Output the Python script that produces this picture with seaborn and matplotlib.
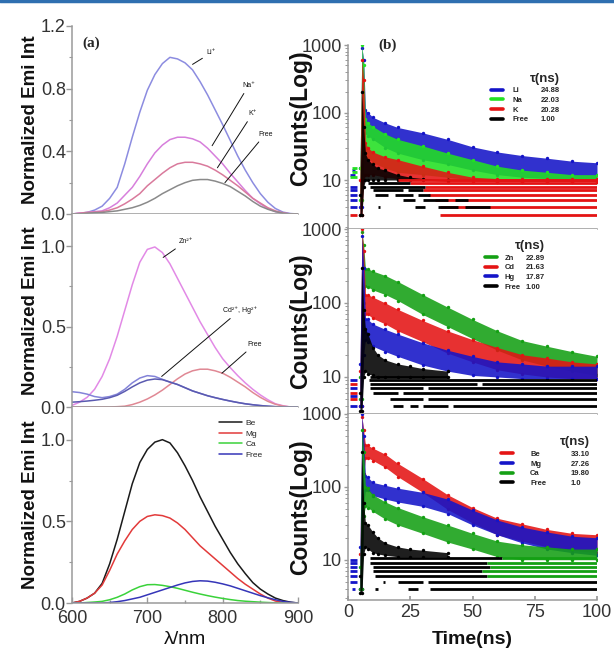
import matplotlib
matplotlib.use("Agg")
import matplotlib.pyplot as plt
from matplotlib.lines import Line2D
from matplotlib.ticker import MultipleLocator, FixedLocator, NullFormatter, FormatStrFormatter
import seaborn as sns

# ---- emission spectra (panel a, middle, bottom) ----
lam = [600, 610, 620, 630, 640, 650, 660, 670, 680, 690, 700, 710, 720, 730, 740, 750,
       760, 770, 780, 790, 800, 810, 820, 830, 840, 850, 860, 870, 880, 890, 900]

li_em = [0.0, 0.005, 0.01, 0.025, 0.05, 0.10, 0.17, 0.32, 0.49, 0.65, 0.79, 0.89, 0.96, 1.0, 0.99, 0.965,
         0.92, 0.845, 0.76, 0.665, 0.57, 0.47, 0.37, 0.28, 0.20, 0.13, 0.075, 0.035, 0.012, 0.003, 0.0]
na_em = [0.0, 0.005, 0.01, 0.015, 0.02, 0.04, 0.07, 0.12, 0.17, 0.24, 0.32, 0.39, 0.44, 0.475, 0.49, 0.49,
         0.48, 0.46, 0.42, 0.37, 0.32, 0.26, 0.205, 0.15, 0.10, 0.065, 0.035, 0.015, 0.005, 0.0, 0.0]
k_em = [0.0, 0.005, 0.01, 0.012, 0.015, 0.025, 0.04, 0.065, 0.095, 0.13, 0.18, 0.22, 0.26, 0.295, 0.32, 0.33,
        0.33, 0.32, 0.305, 0.28, 0.25, 0.215, 0.18, 0.14, 0.10, 0.07, 0.04, 0.02, 0.008, 0.0, 0.0]
free_a_em = [0.0, 0.0, 0.005, 0.008, 0.01, 0.015, 0.02, 0.03, 0.04, 0.055, 0.075, 0.10, 0.13, 0.155, 0.18, 0.20,
             0.215, 0.22, 0.22, 0.21, 0.195, 0.175, 0.145, 0.115, 0.08, 0.05, 0.03, 0.015, 0.005, 0.0, 0.0]

zn_em = [0.01, 0.03, 0.06, 0.11, 0.19, 0.30, 0.44, 0.60, 0.76, 0.90, 0.98, 0.995, 0.96, 0.89, 0.80, 0.71,
         0.62, 0.53, 0.45, 0.37, 0.30, 0.245, 0.195, 0.15, 0.11, 0.075, 0.045, 0.02, 0.008, 0.0, 0.0]
cd_em = [0.095, 0.09, 0.08, 0.065, 0.058, 0.065, 0.08, 0.11, 0.15, 0.18, 0.195, 0.19, 0.172, 0.155, 0.14, 0.12,
         0.10, 0.085, 0.07, 0.058, 0.047, 0.037, 0.028, 0.02, 0.014, 0.009, 0.005, 0.002, 0.0, 0.0, 0.0]
hg_em = [0.03, 0.033, 0.037, 0.042, 0.048, 0.058, 0.073, 0.097, 0.125, 0.15, 0.167, 0.174, 0.17, 0.155, 0.14, 0.12,
         0.10, 0.085, 0.07, 0.058, 0.047, 0.037, 0.028, 0.02, 0.014, 0.009, 0.005, 0.002, 0.0, 0.0, 0.0]
free_m_em = [0.0, 0.0, 0.0, 0.0, 0.0, 0.0, 0.002, 0.005, 0.015, 0.03, 0.05, 0.075, 0.105, 0.14, 0.175, 0.205,
             0.225, 0.235, 0.235, 0.225, 0.21, 0.185, 0.155, 0.125, 0.09, 0.06, 0.035, 0.017, 0.006, 0.0, 0.0]

be_em = [0.0, 0.01, 0.03, 0.06, 0.12, 0.24, 0.39, 0.56, 0.73, 0.86, 0.94, 0.985, 1.0, 0.98, 0.92, 0.84,
         0.75, 0.65, 0.56, 0.47, 0.39, 0.31, 0.24, 0.18, 0.125, 0.085, 0.055, 0.03, 0.015, 0.005, 0.0]
mg_em = [0.0, 0.01, 0.03, 0.06, 0.11, 0.20, 0.30, 0.38, 0.45, 0.50, 0.53, 0.54, 0.535, 0.52, 0.49, 0.45,
         0.40, 0.35, 0.31, 0.27, 0.23, 0.19, 0.15, 0.115, 0.085, 0.055, 0.03, 0.012, 0.004, 0.0, 0.0]
ca_em = [0.0, 0.0, 0.003, 0.006, 0.01, 0.02, 0.035, 0.055, 0.08, 0.10, 0.112, 0.113, 0.108, 0.10, 0.09, 0.078,
         0.066, 0.055, 0.045, 0.036, 0.028, 0.021, 0.015, 0.011, 0.008, 0.005, 0.003, 0.001, 0.0, 0.0, 0.0]
free_d_em = [0.0, 0.0, 0.0, 0.0, 0.0, 0.003, 0.008, 0.015, 0.025, 0.035, 0.05, 0.065, 0.08, 0.095, 0.11, 0.123,
             0.132, 0.136, 0.134, 0.127, 0.117, 0.105, 0.09, 0.075, 0.06, 0.045, 0.032, 0.02, 0.01, 0.004, 0.0]

# ---- decay curves: envelope of the scattered counts (panel b, middle, bottom) ----
t_dec = [4.8, 5.6, 6.3, 7.0, 8, 10, 15, 20, 30, 40, 50, 60, 70, 80, 90, 100]
t_free = [4.8, 5.6, 6.3, 7.0, 8, 10, 12, 15, 20, 25, 30, 40]

li_hi = [15, 900, 600, 110, 100, 85, 70, 60, 50, 40, 31, 26, 23, 21, 19, 18]
li_lo = [4, 4, 30, 50, 45, 40, 30, 25, 20, 17, 14, 12, 11, 10.5, 10, 10]
na_hi = [15, 1000, 500, 80, 70, 62, 48, 40, 32, 25, 20, 16, 14, 13, 12, 12]
na_lo = [5, 5, 25, 25, 22, 18, 15, 13, 12, 11, 10, 9.5, 9.5, 9.5, 9.5, 9.5]
k_hi = [10, 600, 300, 35, 30, 26, 22, 20, 16, 13, 11, 10.5, 10.5, 10.5, 10.5, 10.5]
k_lo = [3, 3, 10, 12, 12, 12, 11, 10.5, 10, 9.5, 9.5, 9.5, 9.5, 9.5, 9.5, 9.5]
free_b_hi = [6, 200, 60, 25, 20, 17, 15, 14, 12, 11, 10.5, 10]
free_b_lo = [3, 3, 8, 10, 10, 10, 10, 10, 10, 10, 10, 10]

zn_hi = [10, 900, 600, 290, 290, 270, 235, 195, 130, 88, 60, 42, 31, 26, 22, 19]
zn_lo = [5, 5, 100, 170, 165, 150, 130, 108, 70, 48, 33, 23, 17, 14, 12, 10.5]
cd_hi = [12, 1000, 500, 130, 130, 120, 100, 82, 58, 42, 32, 25, 20, 18, 16, 15]
cd_lo = [4, 4, 40, 70, 70, 62, 52, 42, 30, 21, 16, 12.5, 11, 10, 9.5, 9.5]
hg_hi = [15, 800, 300, 60, 60, 52, 44, 38, 29, 23, 19, 16, 15, 14, 14, 14]
hg_lo = [4, 4, 20, 32, 30, 26, 22, 19, 14.5, 12, 10.5, 10, 9.5, 9.5, 9.5, 9.5]
free_c_hi = [6, 300, 80, 45, 38, 25, 20, 17, 15, 14, 13, 12]
free_c_lo = [3.5, 3.5, 10, 12, 11, 10.5, 10, 10, 10, 10, 10, 10]

be_hi = [12, 900, 600, 380, 370, 340, 280, 210, 130, 78, 52, 37, 31, 26, 23, 22]
be_lo = [4, 4, 150, 250, 250, 230, 185, 138, 84, 49, 32, 22, 18, 15, 13.5, 12.5]
mg_hi = [15, 1000, 500, 140, 135, 115, 105, 96, 84, 68, 48, 35, 28, 24, 21, 20]
mg_lo = [4, 4, 60, 90, 90, 76, 68, 62, 54, 43, 30, 22, 17, 14, 12.5, 11.5]
ca_hi = [8, 600, 300, 100, 95, 78, 62, 52, 39, 30, 23, 18, 16, 15, 14, 14]
ca_lo = [4, 4, 40, 55, 52, 46, 36, 30, 23, 17.5, 14, 11, 10, 10, 10, 10]
free_d_hi = [6, 300, 60, 32, 30, 24, 20, 17, 15, 14, 13.5, 12.5]
free_d_lo = [3.5, 3.5, 12, 15, 14, 12.5, 12, 11.5, 11, 11, 11, 11]

# quantised low-count rows: (count, t_start, t_end)
rows_b_red = [(10, 20, 100), (9, 25, 100), (8, 31, 100), (7, 30, 100), (6, 32, 100),
              (5, 35, 100), (4, 37, 100), (3, 37, 100), (3, 0.8, 3.5)]
rows_b_black = [(9, 8, 25), (8, 9, 31), (7, 10, 22), (7, 24, 30), (6, 11, 16), (6, 19, 26), (6, 28, 33),
                (5, 22, 27), (5, 30, 40), (5, 43, 48), (4, 12, 13), (4, 27, 31), (4, 36, 44), (4, 47, 57)]
rows_b_blue = [(8, 1, 3.5), (7, 1, 3.5), (6, 1, 3.5), (5, 1, 3.5), (4, 1, 3.5), (12, 1, 3), (14, 1.5, 3)]
rows_b_green = [(15, 1.5, 3.5), (13, 1.5, 3.5), (11, 1, 3.5)]

rows_c_black = [(10, 9, 40), (9, 8.5, 100), (8, 9, 52), (8, 54, 100), (7, 9, 30), (7, 32, 100),
                (6, 10, 20), (6, 22, 100), (5, 17, 30), (5, 32, 100), (4, 18, 22), (4, 25, 28),
                (4, 30, 40), (4, 42, 100)]
rows_c_blue = [(9, 1, 3.5), (7, 1, 3.5), (5.5, 1, 3.5), (4, 1, 3.5)]
rows_c_red = [(8, 1, 3.5), (6, 1, 3.5), (5, 1, 3.5)]

rows_d_black = [(10.5, 9, 62), (9, 9, 56), (8, 10, 57), (7, 10, 54), (6, 11, 56), (5, 14, 15),
                (5, 20, 30), (5, 32, 100), (4, 11, 12), (4, 24, 28), (4, 33, 100)]
rows_d_green = [(10.5, 62, 100), (9, 56, 100), (8, 57, 100), (7, 54, 100), (6, 56, 100)]
rows_d_blue = [(10, 1, 3.5), (9, 1, 3.5), (8, 1, 3.5), (7, 1, 3.5), (6, 1, 3.5), (5, 1, 3.5), (4, 1.5, 3)]

sns.set_theme(style="white")
plt.rcParams["font.family"] = ["Liberation Sans", "DejaVu Sans"]
plt.rcParams["axes.edgecolor"] = "#9a9a9a"
plt.rcParams["axes.linewidth"] = 1.1

fig = plt.figure(figsize=(6.14, 6.5), dpi=100)
fig.add_artist(Line2D([0, 1], [0.998, 0.998], color="#2f6fb0", lw=2.5))

W, H = 614, 650
def box(x0, x1, y0, y1):
    return [x0 / W, 1 - y1 / H, (x1 - x0) / W, (y1 - y0) / H]

ax_a1 = fig.add_axes(box(72, 298, 26, 214))
ax_a2 = fig.add_axes(box(72, 298, 214, 407))
ax_a3 = fig.add_axes(box(72, 298, 407, 603))
ax_b1 = fig.add_axes(box(348, 597, 45, 229))
ax_b2 = fig.add_axes(box(348, 597, 229, 414))
ax_b3 = fig.add_axes(box(348, 597, 414, 600))

TICK = "#333333"

# ---- left column: spectra ----
spec = [
    (ax_a1, [(li_em, "#8c8ce0"), (na_em, "#d77fdc"), (k_em, "#d97a9c"), (free_a_em, "#8a8a8a")]),
    (ax_a2, [(zn_em, "#e28ae6"), (free_m_em, "#e08894"), (cd_em, "#8383d8"), (hg_em, "#5a5ab0")]),
    (ax_a3, [(be_em, "#1a1a1a"), (mg_em, "#e23a3a"), (ca_em, "#3ad23a"), (free_d_em, "#3535b8")]),
]
for ax, series in spec:
    for vals, col in series:
        sns.lineplot(x=lam, y=vals, color=col, lw=1.1, ax=ax, sort=False, estimator=None)
    ax.set_xlim(600, 900)
    ax.set_ylim(0, 1.2)
    for s in ["top", "right"]:
        ax.spines[s].set_visible(False)
    ax.tick_params(axis="y", direction="out", length=4, width=1, color="#9a9a9a",
                   labelsize=13, labelcolor=TICK, pad=0.5, left=True)
    ax.tick_params(axis="y", which="minor", direction="out", length=2.5, width=0.8, color="#9a9a9a", left=True)
    ax.yaxis.set_major_formatter(FormatStrFormatter("%.1f"))
    ax.set_ylabel("Normalized Emi Int", fontsize=13.5, fontweight="bold", color="#111111")
    ax.yaxis.set_label_coords(-0.145, 0.5)

ax_a1.yaxis.set_major_locator(FixedLocator([0.0, 0.4, 0.8, 1.2]))
ax_a1.yaxis.set_minor_locator(FixedLocator([0.2, 0.6, 1.0]))
for ax in (ax_a2, ax_a3):
    ax.yaxis.set_major_locator(FixedLocator([0.0, 0.5, 1.0]))
    ax.yaxis.set_minor_locator(FixedLocator([0.25, 0.75]))
for ax in (ax_a1, ax_a2):
    ax.tick_params(axis="x", bottom=False, labelbottom=False)
    ax.set_xlabel("")
ax_a3.xaxis.set_major_locator(MultipleLocator(100))
ax_a3.xaxis.set_minor_locator(MultipleLocator(50))
ax_a3.tick_params(axis="x", direction="in", length=4, width=1, color="#9a9a9a",
                  labelsize=13, labelcolor=TICK, pad=5, bottom=True)
ax_a3.tick_params(axis="x", which="minor", direction="in", length=2.5, color="#9a9a9a", bottom=True)
ax_a3.set_xlabel("λ/nm", fontsize=14, color="#111111")
ax_a3.xaxis.set_label_coords(0.5, -0.145)

ax_a1.text(0.045, 0.91, "(a)", transform=ax_a1.transAxes, fontsize=11, fontweight="bold",
           family="Liberation Serif", va="center")

arrow = dict(arrowstyle="-", color="#111111", lw=0.7, shrinkA=1, shrinkB=0)
for ax, txt, xy, xyt in [
    (ax_a1, "Li⁺", (760, 0.955), (779, 1.03)),
    (ax_a1, "Na⁺", (786, 0.436), (826, 0.82)),
    (ax_a1, "K⁺", (793, 0.295), (834, 0.64)),
    (ax_a1, "Free", (803, 0.2), (847, 0.51)),
    (ax_a2, "Zn²⁺", (721, 0.93), (742, 1.03)),
    (ax_a2, "Cd²⁺, Hg²⁺", (719, 0.19), (800, 0.6)),
    (ax_a2, "Free", (799, 0.21), (833, 0.39)),
]:
    ax.annotate(txt, xy=xy, xytext=xyt, fontsize=5, ha="left", va="center",
                arrowprops=arrow, color="#111111")

leg = ax_a3.legend(handles=[Line2D([], [], color=c, lw=1.1) for c in ["#1a1a1a", "#e23a3a", "#3ad23a", "#3535b8"]],
                   labels=["Be", "Mg", "Ca", "Free"], loc="upper left", bbox_to_anchor=(0.63, 0.96),
                   frameon=False, fontsize=6, handlelength=2.8, handletextpad=0.4, labelspacing=0.35,
                   borderpad=0)

# ---- right column: decays ----
BLUE, GREEN, RED, BLACK = "#1414c8", "#22e022", "#e41414", "#000000"
DGREEN = "#14a014"

def draw_band(ax, t, lo, hi, col):
    ax.fill_between(t, lo, hi, color=col, lw=0, alpha=0.88)
    sns.scatterplot(x=t + t, y=hi + lo, color=col, s=6, marker="o", linewidth=0, ax=ax)

def draw_rows(ax, rows, col):
    ax.hlines([r[0] for r in rows], [r[1] for r in rows], [r[2] for r in rows], colors=col, lw=2.0)

draw_band(ax_b1, t_dec, li_lo, li_hi, BLUE)
draw_band(ax_b1, t_dec, na_lo, na_hi, GREEN)
draw_band(ax_b1, t_dec, k_lo, k_hi, RED)
draw_rows(ax_b1, rows_b_red, RED)
draw_rows(ax_b1, rows_b_blue, BLUE)
draw_rows(ax_b1, rows_b_green, GREEN)
draw_band(ax_b1, t_free, free_b_lo, free_b_hi, BLACK)
draw_rows(ax_b1, rows_b_black, BLACK)

draw_band(ax_b2, t_dec, zn_lo, zn_hi, DGREEN)
draw_band(ax_b2, t_dec, cd_lo, cd_hi, RED)
draw_band(ax_b2, t_dec, hg_lo, hg_hi, BLUE)
draw_rows(ax_b2, rows_c_black, BLACK)
draw_rows(ax_b2, rows_c_blue, BLUE)
draw_rows(ax_b2, rows_c_red, RED)
draw_band(ax_b2, t_free, free_c_lo, free_c_hi, BLACK)

draw_band(ax_b3, t_dec, be_lo, be_hi, RED)
draw_band(ax_b3, t_dec, mg_lo, mg_hi, BLUE)
draw_band(ax_b3, t_dec, ca_lo, ca_hi, DGREEN)
draw_rows(ax_b3, rows_d_black, BLACK)
draw_rows(ax_b3, rows_d_green, DGREEN)
draw_rows(ax_b3, rows_d_blue, BLUE)
draw_band(ax_b3, t_free, free_d_lo, free_d_hi, BLACK)

for ax, ylo in [(ax_b1, 1.88), (ax_b2, 3.16), (ax_b3, 2.8)]:
    ax.set_yscale("log")
    ax.set_ylim(ylo, 1000)
    ax.set_xlim(0, 100)
    for s in ["top", "right"]:
        ax.spines[s].set_visible(False)
    ax.yaxis.set_major_locator(FixedLocator([10, 100, 1000]))
    ax.set_yticklabels(["10", "100", "1000"])
    ax.yaxis.set_minor_locator(FixedLocator([2, 3, 4, 5, 6, 7, 8, 9, 20, 30, 40, 50, 60, 70, 80, 90,
                                             200, 300, 400, 500, 600, 700, 800, 900]))
    ax.yaxis.set_minor_formatter(NullFormatter())
    ax.tick_params(axis="y", direction="out", length=3, width=1, color="#9a9a9a",
                   labelsize=13, labelcolor=TICK, pad=1.5, left=True)
    ax.tick_params(axis="y", which="minor", direction="out", length=2, width=0.7, color="#9a9a9a", left=True)
    ax.set_ylabel("Counts(Log)", fontsize=16.5, fontweight="bold", color="#111111")
    ax.yaxis.set_label_coords(-0.145, 0.5)
ax_b1.yaxis.set_label_coords(-0.145, 0.6)

for ax in (ax_b1, ax_b2):
    ax.tick_params(axis="x", bottom=False, labelbottom=False)
    ax.set_xlabel("")
ax_b3.xaxis.set_major_locator(FixedLocator([0, 25, 50, 75, 100]))
ax_b3.tick_params(axis="x", direction="in", length=3, color="#9a9a9a",
                  labelsize=13, labelcolor=TICK, pad=3, bottom=True)
ax_b3.set_xlabel("Time(ns)", fontsize=14, fontweight="bold", color="#111111")
ax_b3.xaxis.set_label_coords(0.5, -0.165)

ax_b1.text(0.12, 1.0, "(b)", transform=ax_b1.transAxes, fontsize=11, fontweight="bold",
           family="Liberation Serif", va="center")

def tau_legend(ax, names, taus, colors, anchor, tpad, cspace):
    handles = [Line2D([], [], color=c, lw=2.6) for c in colors] + [Line2D([], [], lw=0) for _ in taus]
    ax.legend(handles, names + taus, ncol=2, loc="upper left", bbox_to_anchor=anchor, frameon=False,
              title="τ(ns)", prop={"size": 5.5, "weight": "bold"},
              title_fontproperties={"size": 9.5, "weight": "bold"},
              handlelength=1.6, handletextpad=tpad, columnspacing=cspace, labelspacing=0.3,
              borderpad=0, alignment="right")

tau_legend(ax_b1, ["Li", "Na", "K", "Free"], ["24.88", "22.03", "20.28", "1.00"],
           [BLUE, GREEN, RED, BLACK], (0.56, 0.87), 1.2, -1.2)
tau_legend(ax_b2, ["Zn", "Cd", "Hg", "Free"], ["22.89", "21.63", "17.87", "1.00"],
           [DGREEN, RED, BLUE, BLACK], (0.535, 0.96), 1.0, -2.0)
tau_legend(ax_b3, ["Be", "Mg", "Ca", "Free"], ["33.10", "27.26", "19.80", "1.0"],
           [RED, BLUE, DGREEN, BLACK], (0.6, 0.9), 2.2, -0.6)

plt.savefig("out.png", dpi=100)
